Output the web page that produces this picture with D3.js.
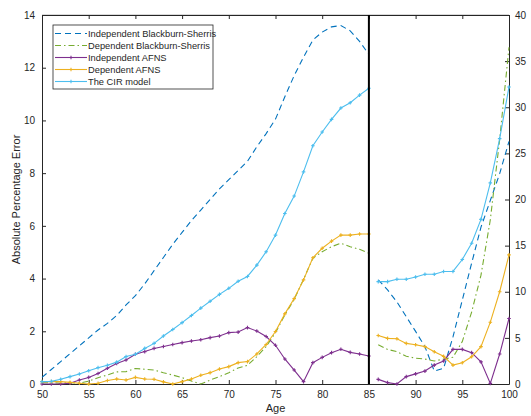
<!DOCTYPE html>
<html>
<head>
<meta charset="utf-8">
<style>
  body { margin: 0; background: #fff; }
  svg { display: block; font-family: "Liberation Sans", Arial, sans-serif; }
  .axis text { fill: #262626; font-size: 10px; }
  .axis path, .axis line { stroke: #262626; }
  .series { fill: none; stroke-width: 1.1; }
</style>
</head>
<body>
<svg width="531" height="416"></svg>
<script src="https://cdn.jsdelivr.net/npm/d3@7"></script>
<script>

// ages for the two panels (left y axis up to 85, right y axis after)
var agesLeft = d3.range(50, 86);
var agesRight = d3.range(86, 101);

// left panel values (left axis, 0-14)
var indBSLeft = [0.25,0.55,0.85,1.15,1.45,1.75,2.05,2.3,2.6,3.0,3.35,3.8,4.3,4.8,5.3,5.75,6.2,6.6,7.0,7.4,7.75,8.1,8.45,9.0,9.5,10.05,10.9,11.7,12.4,13.05,13.35,13.55,13.6,13.4,13.0,12.5];
var depBSLeft = [0.05,0.05,0.03,0.05,0.03,0.11,0.24,0.34,0.46,0.47,0.59,0.56,0.53,0.43,0.34,0.24,0.11,0,0.15,0.28,0.43,0.61,0.71,1.04,1.42,1.95,2.62,3.21,3.97,4.77,5.02,5.21,5.34,5.21,5.11,4.96];
var indAFNSLeft = [0,0,0,0.03,0.15,0.25,0.4,0.6,0.78,0.91,1.13,1.23,1.35,1.42,1.5,1.57,1.63,1.68,1.76,1.82,1.95,1.97,2.14,2.01,1.8,1.47,0.95,0.53,0.09,0.81,1.01,1.19,1.32,1.2,1.14,1.06];
var depAFNSLeft = [0.09,0.09,0.09,0.06,0.03,0,0.03,0.13,0.19,0.15,0.25,0.19,0.18,0.08,0,0.09,0.19,0.33,0.43,0.57,0.66,0.81,0.85,1.14,1.5,1.99,2.66,3.24,3.95,4.79,5.15,5.42,5.65,5.65,5.69,5.69];
var cirLeft = [0.09,0.1,0.18,0.28,0.38,0.5,0.62,0.71,0.83,1.04,1.13,1.35,1.54,1.82,2.07,2.33,2.6,2.88,3.14,3.4,3.63,3.9,4.08,4.51,5.02,5.65,6.47,7.13,8.05,9.04,9.56,10.04,10.47,10.67,10.96,11.22];

// right panel values (right axis, 0-40)
var indBSRight = [11.3,10.2,8.9,7.3,5.7,4.05,1.4,1.7,5.1,9.1,13.1,17.0,19.9,22.8,26.3];
var depBSRight = [4.25,3.75,3.5,3.0,2.8,2.7,2.5,2.7,2.9,4.6,7.8,11.8,17.8,26.5,36.5];
var indAFNSRight = [0.5,0.15,0,0.8,1.1,1.4,2.05,2.5,3.75,3.75,3.4,2.4,0.07,3.25,7.1];
var depAFNSRight = [5.25,4.95,4.9,4.4,4.25,4.05,3.5,3.0,2.05,2.3,2.95,4.05,6.7,10.0,14.0];
var cirRight = [11.1,11.1,11.35,11.35,11.6,11.9,11.9,12.2,12.2,13.5,15.25,17.85,21.8,26.6,32.2];

var names = ["Independent Blackburn-Sherris", "Dependent Blackburn-Sherris",
             "Independent AFNS", "Dependent AFNS", "The CIR model"];
var colors = ["#0072BD", "#77AC30", "#7E2F8E", "#EDB120", "#4DBEEE"];
var dashes = ["6,4", "6,3,1.5,3", null, null, null];
var hasMarker = [false, false, true, true, true];

var leftTicks = [0, 2, 4, 6, 8, 10, 12, 14];
var rightTicks = [0, 5, 10, 15, 20, 25, 30, 35, 40];
var ageTicks = [50, 55, 60, 65, 70, 75, 80, 85, 90, 95, 100];

var margin = {top: 15, right: 22, bottom: 32, left: 42},
    width = 531 - margin.left - margin.right,
    height = 416 - margin.top - margin.bottom;

var x = d3.scaleLinear().domain([50, 100]).range([0, width]);
var yL = d3.scaleLinear().domain([0, 14]).range([height, 0]);
var yR = d3.scaleLinear().domain([0, 40]).range([height, 0]);

var svg = d3.select("svg")
  .append("g")
  .attr("transform", "translate(" + margin.left + "," + margin.top + ")");

// top frame line
svg.append("line")
  .attr("x1", 0).attr("x2", width).attr("y1", 0).attr("y2", 0)
  .attr("stroke", "#262626").attr("stroke-width", 0.6).attr("stroke-opacity", 0.6);

// axes, ticks pointing inward like matlab
svg.append("g").attr("class", "axis")
  .attr("transform", "translate(0," + height + ")")
  .call(d3.axisBottom(x).tickValues(ageTicks).tickSize(-4).tickPadding(7).tickSizeOuter(0));
svg.append("g").attr("class", "axis")
  .call(d3.axisTop(x).tickValues(ageTicks).tickSize(-4).tickFormat("").tickSizeOuter(0));
svg.append("g").attr("class", "axis")
  .call(d3.axisLeft(yL).tickValues(leftTicks).tickSize(-4).tickPadding(7).tickSizeOuter(0));
svg.append("g").attr("class", "axis")
  .attr("transform", "translate(" + width + ",0)")
  .call(d3.axisRight(yR).tickValues(rightTicks).tickSize(-4).tickPadding(6).tickSizeOuter(0));

svg.append("text")
  .attr("x", width / 2).attr("y", height + 28)
  .attr("text-anchor", "middle").attr("fill", "#262626").style("font-size", "11px")
  .text("Age");
svg.append("text")
  .attr("transform", "translate(-22," + (height / 2) + ") rotate(-90)")
  .attr("text-anchor", "middle").attr("fill", "#262626").style("font-size", "11px")
  .text("Absolute Percentage Error");

var leftData = [indBSLeft, depBSLeft, indAFNSLeft, depAFNSLeft, cirLeft];
var rightData = [indBSRight, depBSRight, indAFNSRight, depAFNSRight, cirRight];

function drawSeries(ages, vals, y, i) {
  var pts = ages.map(function(a, j) { return [a, vals[j]]; });
  var line = d3.line()
    .x(function(d) { return x(d[0]); })
    .y(function(d) { return y(d[1]); });
  svg.append("path")
    .attr("class", "series")
    .attr("d", line(pts))
    .attr("stroke", colors[i])
    .attr("stroke-dasharray", dashes[i]);
  if (hasMarker[i]) {
    svg.selectAll(null).data(pts).enter().append("path")
      .attr("transform", function(d) { return "translate(" + x(d[0]) + "," + y(d[1]) + ")"; })
      .attr("d", "M-1.8,0H1.8M0,-1.8V1.8")
      .attr("stroke", colors[i]).attr("stroke-width", 1.1);
  }
}

for (var i = 0; i < 5; i++) {
  drawSeries(agesLeft, leftData[i], yL, i);
  drawSeries(agesRight, rightData[i], yR, i);
}

// divider at age 85
svg.append("line")
  .attr("x1", x(85)).attr("x2", x(85)).attr("y1", 0).attr("y2", height)
  .attr("stroke", "#000").attr("stroke-width", 2);

// legend
var lg = svg.append("g").attr("transform", "translate(11,10)");
lg.append("rect").attr("width", 160).attr("height", 64)
  .attr("fill", "#fff").attr("stroke", "#262626").attr("stroke-width", 0.8);
names.forEach(function(n, i) {
  var yy = 8.5 + i * 12;
  var row = lg.append("g").attr("transform", "translate(0," + yy + ")");
  row.append("line").attr("x1", 2).attr("x2", 34).attr("y1", 0).attr("y2", 0)
    .attr("stroke", colors[i]).attr("stroke-width", 1.1).attr("stroke-dasharray", dashes[i]);
  if (hasMarker[i]) {
    row.append("path").attr("d", "M16.2,0H19.8M18,-1.8V1.8")
      .attr("stroke", colors[i]).attr("stroke-width", 1.1);
  }
  row.append("text").attr("x", 35).attr("y", 3.3)
    .attr("fill", "#262626").style("font-size", "9.3px").text(n);
});

</script>
</body>
</html>
